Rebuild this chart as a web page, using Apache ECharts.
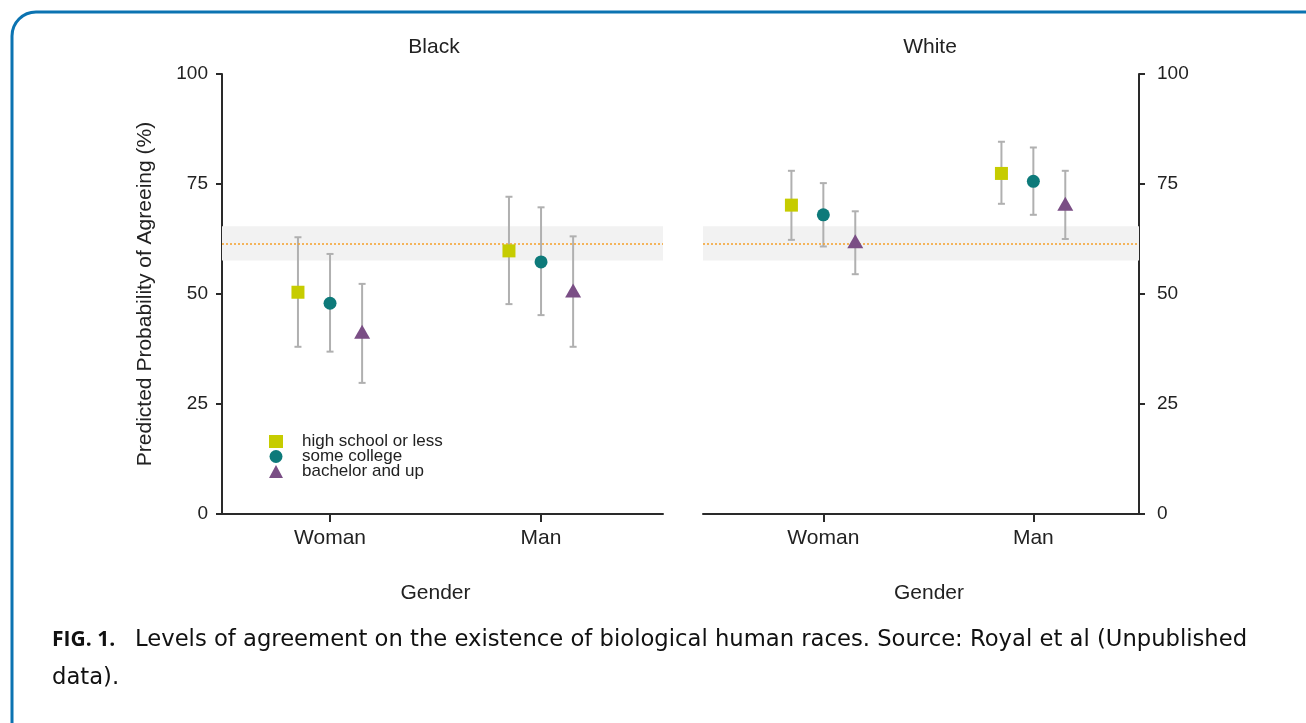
<!DOCTYPE html>
<html>
<head>
<meta charset="utf-8">
<script src="https://cdn.jsdelivr.net/npm/echarts@6/dist/echarts.min.js"></script>
<style>
html,body{margin:0;padding:0;background:#fff;}
#chart{width:1306px;height:723px;}
</style>
</head>
<body>
<div id="chart"></div>
<script>
// ---- data ----
const categories = ['Woman', 'Man'];
const panels = ['Black', 'White'];
const educationLevels = ['high school or less', 'some college', 'bachelor and up'];
const yTicks = [0, 25, 50, 75, 100];
// rows: Woman, Man ; columns: education level
const blackEstimate = [[50.4, 47.9, 41.4], [59.8, 57.3, 50.8]];
const blackLower    = [[38.0, 36.9, 29.8], [47.7, 45.2, 38.0]];
const blackUpper    = [[62.9, 59.1, 52.3], [72.1, 69.7, 63.1]];
const whiteEstimate = [[70.2, 68.0, 62.0], [77.4, 75.6, 70.5]];
const whiteLower    = [[62.3, 60.8, 54.5], [70.5, 68.0, 62.5]];
const whiteUpper    = [[78.0, 75.2, 68.8], [84.6, 83.3, 78.0]];
const overallMean = 61.5;
const overallLower = 57.6;
const overallUpper = 65.4;

// ---- layout / style ----
const FONT = 'Liberation Sans';
const CAPFONT = 'DejaVu Sans';
const dodge = [-0.152, 0, 0.152];
const colors = ['#c6cc00', '#0d7a7a', '#7a4e85'];
const symbols = ['rect', 'circle', 'triangle'];
const symbolSizes = [13, 13, [16, 14]];
const axisColor = '#2a2a2a';
const textColor = '#222';

const panelData = [
  {est: blackEstimate, lo: blackLower, hi: blackUpper},
  {est: whiteEstimate, lo: whiteLower, hi: whiteUpper}
];

const grids = [
  {left: 222, top: 74, width: 441, height: 440},
  {left: 703, top: 74, width: 436, height: 440}
];
const xRanges = [[0.488, 2.578], [0.427, 2.503]];
const namePads = [[0, 14, 0, 0], [0, 0, 0, 16]];

const xAxes = grids.map((g, p) => ({
  type: 'value', gridIndex: p, min: xRanges[p][0], max: xRanges[p][1],
  name: 'Gender', nameLocation: 'middle', nameGap: 69,
  nameTextStyle: {fontFamily: FONT, fontSize: 21, color: textColor, padding: namePads[p]},
  axisLine: {show: true, onZero: false, lineStyle: {color: axisColor, width: 2}},
  axisTick: {show: true, customValues: [1, 2], length: 8, lineStyle: {color: axisColor, width: 2}},
  axisLabel: {customValues: [1, 2], margin: 14, fontFamily: FONT, fontSize: 21, color: textColor,
    formatter: v => categories[Math.round(v) - 1] || ''},
  splitLine: {show: false}
}));

const yAxes = grids.map((g, p) => ({
  type: 'value', gridIndex: p, min: 0, max: 100, interval: 25,
  position: p === 0 ? 'left' : 'right',
  name: p === 0 ? 'Predicted Probability of Agreeing (%)' : '',
  nameLocation: 'middle', nameGap: 66,
  nameTextStyle: {fontFamily: FONT, fontSize: 21, color: textColor},
  axisLine: {show: true, lineStyle: {color: axisColor, width: 2}},
  axisTick: {show: true, length: 6, lineStyle: {color: axisColor, width: 2}},
  axisLabel: {margin: p === 0 ? 14 : 18, fontFamily: FONT, fontSize: 19, color: textColor,
    formatter: v => yTicks.includes(v) ? String(v) : ''},
  splitLine: {show: false}
}));

const series = [];
panelData.forEach((pd, p) => {
  const errData = [];
  categories.forEach((c, i) => {
    educationLevels.forEach((e, k) => {
      errData.push([i + 1 + dodge[k], pd.lo[i][k], pd.hi[i][k]]);
    });
  });
  series.push({
    type: 'custom', xAxisIndex: p, yAxisIndex: p, z: 2, silent: true,
    encode: {x: 0, y: [1, 2]},
    data: errData,
    renderItem: (params, api) => {
      const x = api.value(0);
      const top = api.coord([x, api.value(2)]);
      const bot = api.coord([x, api.value(1)]);
      const hw = 3.5;
      const st = {stroke: '#b0b0b0', lineWidth: 2};
      return {type: 'group', children: [
        {type: 'line', shape: {x1: top[0], y1: top[1], x2: bot[0], y2: bot[1]}, style: st},
        {type: 'line', shape: {x1: top[0] - hw, y1: top[1], x2: top[0] + hw, y2: top[1]}, style: st},
        {type: 'line', shape: {x1: bot[0] - hw, y1: bot[1], x2: bot[0] + hw, y2: bot[1]}, style: st}
      ]};
    },
    markArea: {silent: true, itemStyle: {color: '#f2f2f2'},
      data: [[{yAxis: overallLower}, {yAxis: overallUpper}]]},
    markLine: {silent: true, symbol: 'none', label: {show: false},
      lineStyle: {type: [2, 2], color: '#f5a02a', width: 1.5},
      data: [{yAxis: overallMean}]}
  });
  educationLevels.forEach((e, k) => {
    series.push({
      type: 'scatter', name: e, xAxisIndex: p, yAxisIndex: p, z: 5,
      symbol: symbols[k], symbolSize: symbolSizes[k],
      itemStyle: {color: colors[k], opacity: 1},
      data: categories.map((c, i) => [i + 1 + dodge[k], pd.est[i][k]])
    });
  });
});

const captionLabel = 'FIG. 1.';
const captionBody = 'Levels of agreement on the existence of biological human races. Source: Royal et al (Unpublished';
const captionTail = 'data).';

const option = {
  backgroundColor: '#fff',
  animation: false,
  grid: grids,
  xAxis: xAxes,
  yAxis: yAxes,
  legend: {
    data: educationLevels, orient: 'vertical', left: 269, top: 433,
    itemWidth: 14, itemHeight: 13, itemGap: -2, padding: 0,
    textStyle: {fontFamily: FONT, fontSize: 17, color: textColor, lineHeight: 14, padding: [0, 0, 0, 14]}
  },
  graphic: [
    {type: 'rect', silent: true, shape: {x: 12, y: 12, width: 1330, height: 780, r: 24},
      style: {fill: 'none', stroke: '#0b73b1', lineWidth: 3}},
    {type: 'text', x: 434, y: 47, style: {text: panels[0], fontFamily: FONT, fontSize: 21, fill: textColor, align: 'center', verticalAlign: 'middle'}},
    {type: 'text', x: 930, y: 47, style: {text: panels[1], fontFamily: FONT, fontSize: 21, fill: textColor, align: 'center', verticalAlign: 'middle'}},
    {type: 'text', x: 52, y: 640, style: {text: captionLabel, fontFamily: 'Open Sans', fontSize: 21, fontWeight: 'bold', fill: '#111', verticalAlign: 'middle'}},
    {type: 'text', x: 135, y: 640, style: {text: captionBody, fontFamily: CAPFONT, fontSize: 22.7, fill: '#111', verticalAlign: 'middle'}},
    {type: 'text', x: 52, y: 678, style: {text: captionTail, fontFamily: CAPFONT, fontSize: 22.7, fill: '#111', verticalAlign: 'middle'}}
  ],
  series: series
};

const chart = echarts.init(document.getElementById('chart'), null, {renderer: 'canvas'});
chart.setOption(option);
</script>
</body>
</html>
